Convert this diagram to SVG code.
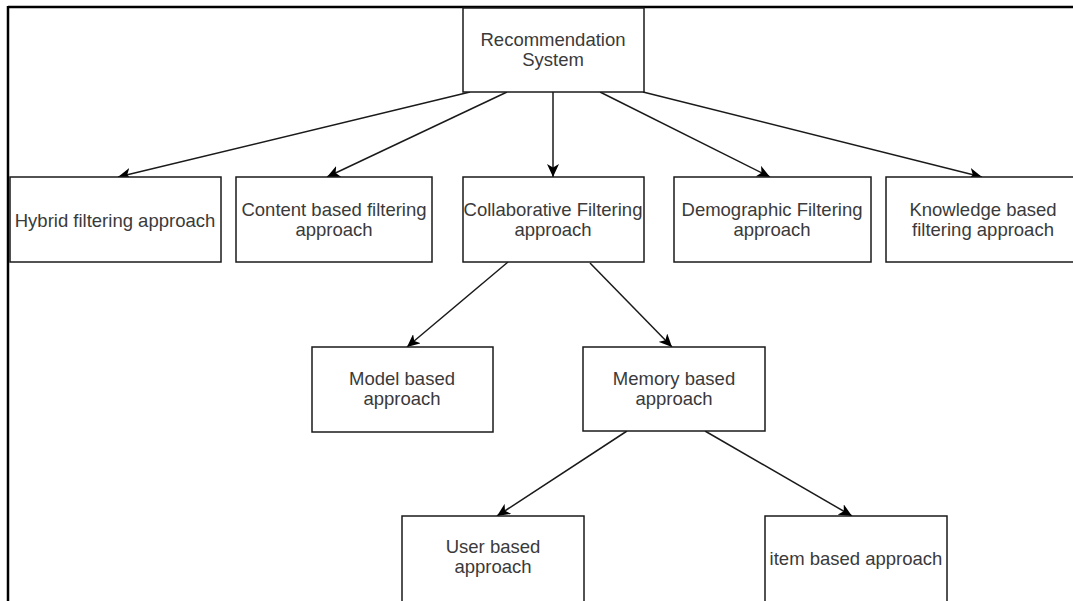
<svg xmlns="http://www.w3.org/2000/svg" width="1073" height="601" viewBox="0 0 1073 601">
<style>
  .box { fill: #ffffff; stroke: #1a1a1a; stroke-width: 1.5; }
  .lbl { font-family: "Liberation Sans", Arial, sans-serif; font-size: 18.5px; fill: #3a3a3a; text-anchor: middle; }
  .edge { fill: none; stroke: #1a1a1a; stroke-width: 1.5; marker-end: url(#arrow); }
  .frame { fill: none; stroke: #000000; stroke-width: 2.5; }
</style>
<defs>
  <marker id="arrow" markerUnits="userSpaceOnUse" markerWidth="14" markerHeight="12" viewBox="0 0 14 12" refX="13" refY="6" orient="auto">
    <path d="M0,0 L13,6 L0,12 L3.5,6 Z" fill="#000000"/>
  </marker>
</defs>
<rect x="0" y="0" width="1073" height="601" fill="#ffffff"/>
<g id="frame">
  <line class="frame" x1="8" y1="7" x2="1073" y2="7"/>
  <line class="frame" x1="8" y1="6" x2="8" y2="601"/>
</g>
<g id="connectors">
  <line class="edge" x1="470" y1="92" x2="118" y2="177"/>
  <line class="edge" x1="507" y1="92" x2="327" y2="177"/>
  <line class="edge" x1="553" y1="92" x2="553" y2="177"/>
  <line class="edge" x1="600" y1="92" x2="770" y2="177"/>
  <line class="edge" x1="643" y1="92" x2="982" y2="177"/>
  <line class="edge" x1="508" y1="262" x2="407" y2="347"/>
  <line class="edge" x1="590" y1="263" x2="672" y2="347"/>
  <line class="edge" x1="627" y1="431" x2="497" y2="516"/>
  <line class="edge" x1="705" y1="431" x2="852" y2="516"/>
</g>
<g id="recommendation-system">
  <rect class="box" x="463" y="8" width="181" height="84"/>
  <text class="lbl" x="553" y="46">Recommendation</text>
  <text class="lbl" x="553" y="66">System</text>
</g>
<g id="hybrid">
  <rect class="box" x="10" y="177" width="211" height="85"/>
  <text class="lbl" x="115" y="227">Hybrid filtering approach</text>
</g>
<g id="content">
  <rect class="box" x="236" y="177" width="196" height="85"/>
  <text class="lbl" x="334" y="216">Content based filtering</text>
  <text class="lbl" x="334" y="236">approach</text>
</g>
<g id="collaborative">
  <rect class="box" x="463" y="177" width="181" height="85"/>
  <text class="lbl" x="553" y="216">Collaborative Filtering</text>
  <text class="lbl" x="553" y="236">approach</text>
</g>
<g id="demographic">
  <rect class="box" x="674" y="177" width="197" height="85"/>
  <text class="lbl" x="772" y="216">Demographic Filtering</text>
  <text class="lbl" x="772" y="236">approach</text>
</g>
<g id="knowledge">
  <rect class="box" x="886" y="177" width="194" height="85"/>
  <text class="lbl" x="983" y="216">Knowledge based</text>
  <text class="lbl" x="983" y="236">filtering approach</text>
</g>
<g id="model">
  <rect class="box" x="312" y="347" width="181" height="85"/>
  <text class="lbl" x="402" y="385">Model based</text>
  <text class="lbl" x="402" y="405">approach</text>
</g>
<g id="memory">
  <rect class="box" x="583" y="347" width="182" height="84"/>
  <text class="lbl" x="674" y="385">Memory based</text>
  <text class="lbl" x="674" y="405">approach</text>
</g>
<g id="user">
  <rect class="box" x="402" y="516" width="182" height="90"/>
  <text class="lbl" x="493" y="553">User based</text>
  <text class="lbl" x="493" y="573">approach</text>
</g>
<g id="item">
  <rect class="box" x="765" y="516" width="182" height="90"/>
  <text class="lbl" x="856" y="565">item based approach</text>
</g>
</svg>
